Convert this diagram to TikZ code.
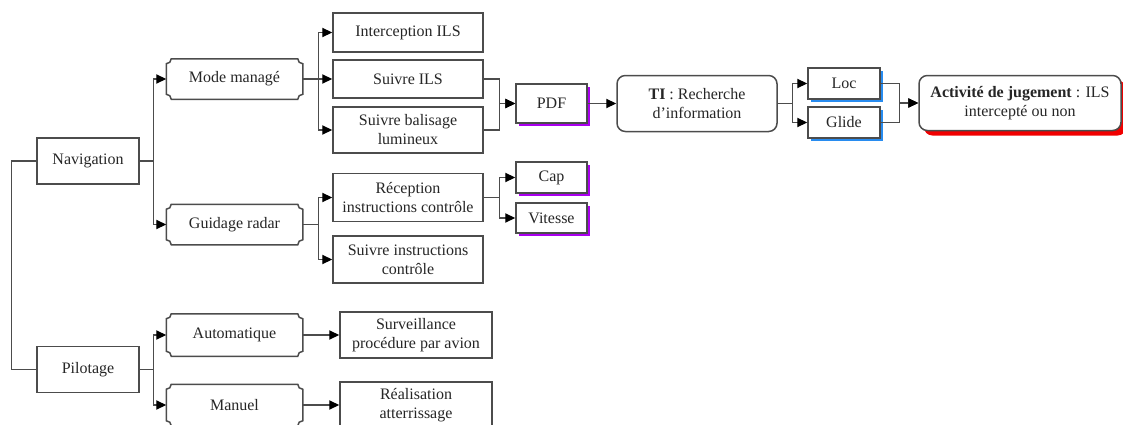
\documentclass[tikz,border=0pt]{standalone}
\usepackage{fontspec}
\setmainfont{Liberation Serif}
\usetikzlibrary{arrows.meta,calc,shadows}
\definecolor{shpurple}{RGB}{170,0,240}
\definecolor{shblue}{RGB}{40,140,240}
\definecolor{shred}{RGB}{240,0,0}

\tikzset{
  frame/.style={draw=black!70, line width=0.9pt},
  box/.style={frame, fill=white, align=center, inner sep=1pt,
    font=\fontsize{9.6}{11.4}\selectfont, text=black!85},
  notch/.style={box, draw=none},
  tagbox/.style={box, general shadow={fill=shpurple, shadow xshift=1.8pt, shadow yshift=-1.5pt}},
  axisbox/.style={box, general shadow={fill=shblue, shadow xshift=1.8pt, shadow yshift=-1.5pt}},
  roundbox/.style={box, rounded corners=5pt},
  link/.style={draw=black!70, line width=0.8pt},
  arr/.style={link, -{Triangle[length=6pt,width=5.5pt,color=black]}},
}

% concave corners round a node
\newcommand{\notchframe}[1]{%
  \draw[frame] ($(#1.north west)+(0,-3pt)$) arc[start angle=-90,end angle=0,radius=3pt]
    -- ($(#1.north east)+(-3pt,0)$) arc[start angle=180,end angle=270,radius=3pt]
    -- ($(#1.south east)+(0,3pt)$) arc[start angle=90,end angle=180,radius=3pt]
    -- ($(#1.south west)+(3pt,0)$) arc[start angle=0,end angle=90,radius=3pt] -- cycle;}

\begin{document}
\begin{tikzpicture}[x=0.6pt, y=-0.6pt]
    \useasboundingbox (0,0) rectangle (1123,425);

    % left column
    \node[box, minimum width=61.2pt, minimum height=27.6pt] (nav) at(88, 161){Navigation};
    \node[box, minimum width=61.2pt, minimum height=27.6pt] (pil) at(88, 369.5){Pilotage};
    \draw[link](nav.west) -- ++(-25, 0) |- (pil.west);

    % modes
    \node[notch, minimum width=81pt, minimum height=23.4pt] (mode) at(234.5, 79){Mode manag\'e};
    \node[notch, minimum width=81pt, minimum height=23.4pt] (guid) at(234.5, 224.5){Guidage radar};
    \node[notch, minimum width=81pt, minimum height=24.6pt] (auto) at(234.5, 335){Automatique};
    \node[notch, minimum width=81pt, minimum height=24pt] (manu) at(234.5, 405){Manuel};
    \notchframe{mode}
    \notchframe{guid}
    \notchframe{auto}
    \notchframe{manu}

    \draw[arr](nav.east) -- ++(14, 0) |- (mode.west);
    \draw[arr](nav.east) -- ++(14, 0) |- (guid.west);
    \draw[arr](pil.east) -- ++(14, 0) |- (auto.west);
    \draw[arr](pil.east) -- ++(14, 0) |- (manu.west);

    % tasks
    \node[box, minimum width=90pt, minimum height=23.4pt] (intc) at(408, 32.5){Interception ILS};
    \node[box, minimum width=90pt, minimum height=22.8pt] (suiv) at(408, 79){Suivre ILS};
    \node[box, minimum width=90pt, minimum height=27.6pt] (bali) at(408, 130){Suivre balisage\\lumineux};
    \node[box, minimum width=90pt, minimum height=28.8pt] (recp) at(408, 197.5){R\'eception\\instructions contr\^ole};
    \node[box, minimum width=90pt, minimum height=28.2pt] (sinst) at(408, 259.5){Suivre instructions\\contr\^ole};
    \node[box, minimum width=91.2pt, minimum height=27.6pt] (surv) at(416, 335){Surveillance\\proc\'edure par avion};
    \node[box, minimum width=91.2pt, minimum height=27.6pt] (real) at(416, 405){R\'ealisation\\atterrissage};

    \draw[arr](mode.east) -- ++(16, 0) |- (intc.west);
    \draw[arr](mode.east) -- (suiv.west);
    \draw[arr](mode.east) -- ++(16, 0) |- (bali.west);
    \draw[arr](guid.east) -- ++(16, 0) |- (recp.west);
    \draw[arr](guid.east) -- ++(16, 0) |- (sinst.west);
    \draw[arr](auto.east) -- (surv.west);
    \draw[arr](manu.east) -- (real.west);

    % information
    \node[tagbox, minimum width=42.6pt, minimum height=23.4pt] (pdf) at(551.5, 103.5){PDF};
    \node[tagbox, minimum width=42.6pt, minimum height=18.6pt] (cap) at(551.5, 177.5){Cap};
    \node[tagbox, minimum width=42.6pt, minimum height=18pt] (vit) at(551.5, 218){Vitesse};

    \draw[arr](suiv.east) -- ++(16, 0) |- (pdf.west);
    \draw[arr](bali.east) -- ++(16, 0) |- (pdf.west);
    \draw[arr](recp.east) -- ++(16, 0) |- (cap.west);
    \draw[arr](recp.east) -- ++(16, 0) |- (vit.west);

    \node[roundbox, minimum width=96pt, minimum height=33.6pt] (ti) at(697, 103.5){\textbf{TI} : Recherche\\d’information};
    \draw[arr](pdf.east) -- (ti.west);

    \node[axisbox, minimum width=43.2pt, minimum height=18.6pt] (loc) at(844, 83.5){Loc};
    \node[axisbox, minimum width=43.2pt, minimum height=18.6pt] (glid) at(844, 122.5){Glide};
    \draw[arr](ti.east) -- ++(15, 0) |- (loc.west);
    \draw[arr](ti.east) -- ++(15, 0) |- (glid.west);

    \node[roundbox, general shadow={fill=shred, shadow xshift=3pt, shadow yshift=-3pt},
        minimum width=121.2pt, minimum height=33pt] (act) at(1020, 103){\textbf{Activit\'e de jugement} : ILS\\intercept\'e ou non};
    \draw[arr](loc.east) -- ++(19, 0) |- (act.west);
    \draw[arr](glid.east) -- ++(19, 0) |- (act.west);
\end{tikzpicture}
\end{document}
